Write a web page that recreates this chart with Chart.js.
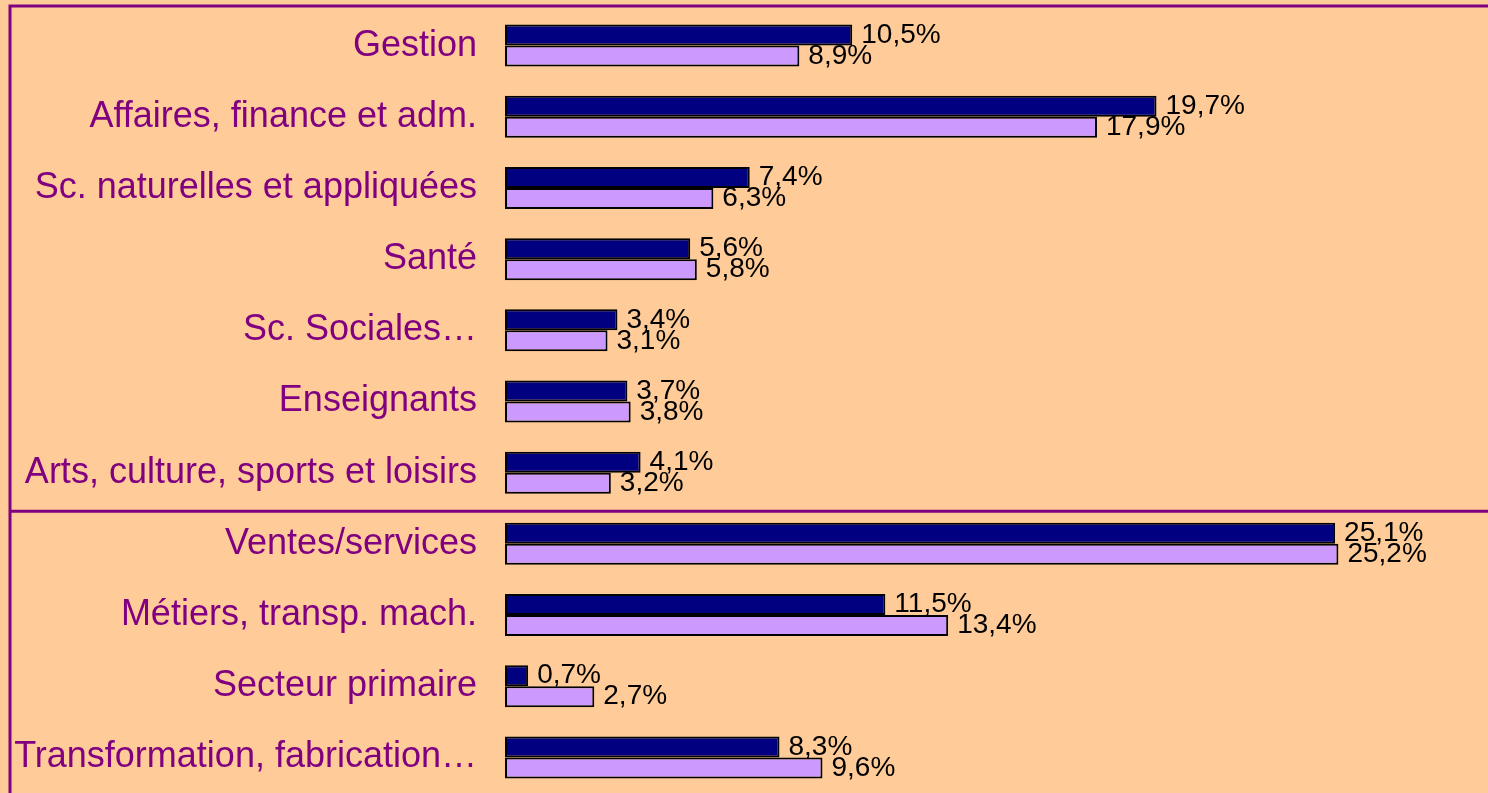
<!DOCTYPE html>
<html>
<head>
<meta charset="utf-8">
<script src="https://cdn.jsdelivr.net/npm/chart.js@4.4.1/dist/chart.umd.min.js"></script>
<style>
  html, body { margin: 0; padding: 0; background: #FFCC99; overflow: hidden; }
  canvas { display: block; }
</style>
</head>
<body>
<canvas id="graph" width="1488" height="793"></canvas>
<script>
// Catégories professionnelles
const categories = [
    'Gestion',
    'Affaires, finance et adm.',
    'Sc. naturelles et appliquées',
    'Santé',
    'Sc. Sociales…',
    'Enseignants',
    'Arts, culture, sports et loisirs',
    'Ventes/services',
    'Métiers, transp. mach.',
    'Secteur primaire',
    'Transformation, fabrication…'
];

// Série 1 (bleu foncé) et série 2 (lavande), en %
const serie1 = [10.5, 19.7, 7.4, 5.6, 3.4, 3.7, 4.1, 25.1, 11.5, 0.7, 8.3];
const serie2 = [8.9, 17.9, 6.3, 5.8, 3.1, 3.8, 3.2, 25.2, 13.4, 2.7, 9.6];

const violet = '#800080';
const police = '"Liberation Sans", Arial, sans-serif';

function formatPct(v) {
    return v.toFixed(1).replace('.', ',') + '%';
}

// fond + cadre violet
const cadrePlugin = {
    id: 'cadre',
    beforeDraw(chart) {
        const c = chart.ctx;
        c.save();
        c.fillStyle = '#FFCC99';
        c.fillRect(0, 0, chart.width, chart.height);
        c.restore();
    },
    afterDraw(chart) {
        const c = chart.ctx;
        const y = chart.scales.y;
        // ligne de séparation entre les deux groupes
        const sep = y.getPixelForValue(6.5) + 3;
        c.save();
        c.strokeStyle = violet;
        c.lineWidth = 3;
        c.beginPath();
        c.moveTo(chart.width, 6);
        c.lineTo(10, 6);
        c.lineTo(10, chart.height);
        c.moveTo(10, sep);
        c.lineTo(chart.width, sep);
        c.stroke();
        c.restore();
    }
};

// étiquettes de valeurs au bout des barres
const etiquettesPlugin = {
    id: 'etiquettes',
    afterDatasetsDraw(chart) {
        const c = chart.ctx;
        c.save();
        c.font = '28px ' + police;
        c.fillStyle = '#000000';
        c.textAlign = 'left';
        c.textBaseline = 'middle';
        chart.data.datasets.forEach((ds, i) => {
            chart.getDatasetMeta(i).data.forEach((bar, j) => {
                c.fillText(formatPct(ds.data[j]), bar.x + 9, bar.y);
            });
        });
        c.restore();
    }
};

const ctx = document.getElementById('graph').getContext('2d');
const graphique = new Chart(ctx, {
    type: 'bar',
    data: {
        labels: categories,
        datasets: [{
            label: 'Série 1',
            data: serie1,
            backgroundColor: '#000080',
            borderColor: '#000000',
            borderWidth: 2,
            borderSkipped: false,
            barPercentage: 1.0,
            categoryPercentage: 0.59
        }, {
            label: 'Série 2',
            data: serie2,
            backgroundColor: '#CC99FF',
            borderColor: '#000000',
            borderWidth: 2,
            borderSkipped: false,
            barPercentage: 1.0,
            categoryPercentage: 0.59
        }]
    },
    options: {
        indexAxis: 'y',
        responsive: false,
        animation: false,
        devicePixelRatio: 1,
        layout: {
            padding: { top: 10, right: 57, bottom: 0, left: 0 }
        },
        plugins: {
            legend: { display: false },
            tooltip: { enabled: false }
        },
        scales: {
            x: {
                display: false,
                min: 0,
                max: 28
            },
            y: {
                afterFit(scale) {
                    scale.width = 505;
                    // pas de marge verticale pour les étiquettes
                    scale.paddingTop = 0;
                    scale.paddingBottom = 0;
                },
                grid: { display: false, drawTicks: false },
                border: { display: false },
                ticks: {
                    color: violet,
                    padding: 28,
                    font: { family: police, size: 36 }
                }
            }
        }
    },
    plugins: [cadrePlugin, etiquettesPlugin]
});
</script>
</body>
</html>
